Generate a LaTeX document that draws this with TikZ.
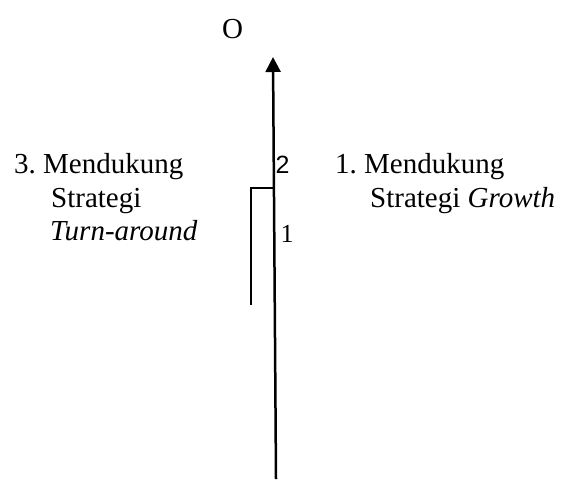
\documentclass[tikz,border=0pt]{standalone}
\usepackage{fontspec}
\setmainfont{Liberation Serif}
\newfontfamily\arialfont{Liberation Sans}
\usetikzlibrary{arrows.meta}
\begin{document}
\frenchspacing
\begin{tikzpicture}[x=1pt,y=-1pt,
  lbl/.style={anchor=base west,inner sep=0pt,font=\fontsize{29}{34}\selectfont},
  axis/.style={line width=2.5pt,-{Triangle[length=15pt,width=15pt]}},
  brk/.style={line width=2pt}]
\useasboundingbox (0,0) rectangle (561,480);
\coordinate (bot) at (276,479);
\coordinate (top) at (273,57);
\draw[axis] (bot) -- (top);
\node[lbl,anchor=base] (o) at (232.5,38) {O};
\coordinate (b1) at (250.5,305);
\coordinate (b2) at (250.5,188);
\coordinate (b3) at (274.3,188);
\draw[brk] (b1) -- (b2) -- (b3);
\node[lbl] (l1) at (14,173) {3. Mendukung};
\node[lbl] (l2) at (51,207) {Strategi};
\node[lbl] (l3) at (50,240) {\itshape Turn-around};
\node[lbl] (r1) at (335,173) {1. Mendukung};
\node[lbl] (r2) at (370,207) {Strategi \textit{Growth}};
\node[lbl,font=\arialfont\fontsize{25}{28}\selectfont] (n2) at (275.5,173) {2};
\node[lbl,font=\fontsize{26}{30}\selectfont] (n1) at (280.5,242) {1};
\end{tikzpicture}
\end{document}
